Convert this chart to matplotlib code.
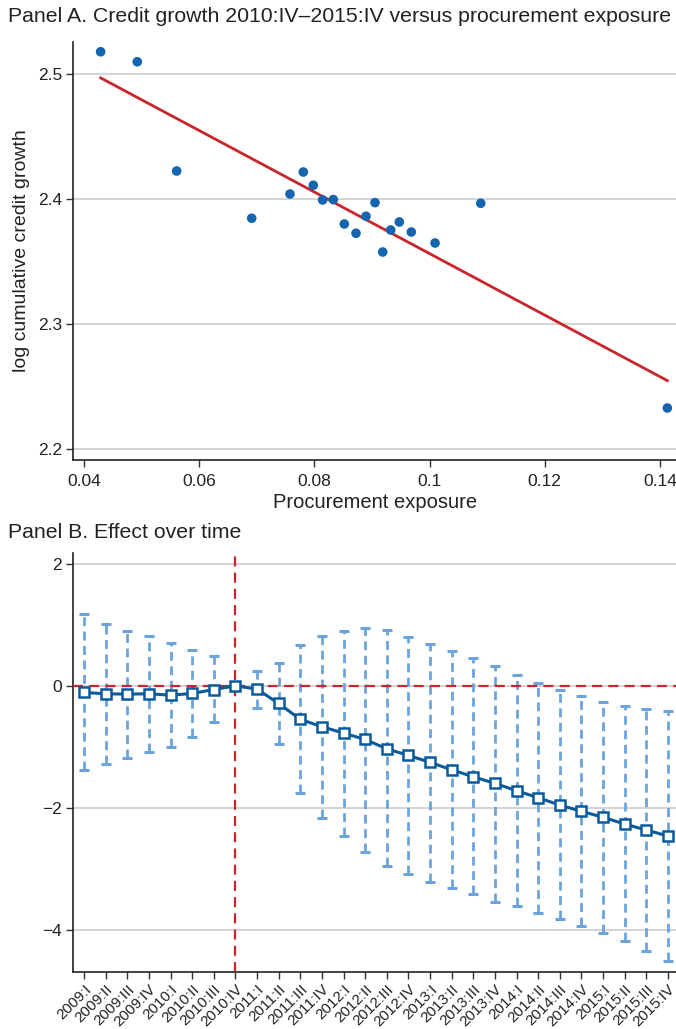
"""
Credit growth vs procurement exposure, and effect over time
"""
import numpy as np
import matplotlib
matplotlib.use('Agg')
from matplotlib import pyplot as plt
from matplotlib.ticker import FuncFormatter

plt.rcParams['font.family'] = ['Liberation Sans', 'DejaVu Sans']

# Panel A data
exposure = [0.04285, 0.04921, 0.05606, 0.06909, 0.07574, 0.07806, 0.07979, 0.08142, 0.08327, 0.08518,
            0.08721, 0.08895, 0.09051, 0.09185, 0.09324, 0.09474, 0.09682, 0.10094, 0.10888, 0.1413]
credit_growth = [2.518, 2.510, 2.4226, 2.3848, 2.4042, 2.4218, 2.4112, 2.3994, 2.3997, 2.3802,
                 2.3728, 2.3864, 2.3973, 2.3578, 2.3754, 2.3818, 2.3738, 2.3650, 2.3968, 2.233]
fit_intercept = 2.6025
fit_slope = -2.46

# Panel B data
quarters = ['2009:I', '2009:II', '2009:III', '2009:IV', '2010:I', '2010:II', '2010:III', '2010:IV',
            '2011:I', '2011:II', '2011:III', '2011:IV', '2012:I', '2012:II', '2012:III', '2012:IV',
            '2013:I', '2013:II', '2013:III', '2013:IV', '2014:I', '2014:II', '2014:III', '2014:IV',
            '2015:I', '2015:II', '2015:III', '2015:IV']
effect = [-0.108, -0.13, -0.136, -0.13, -0.153, -0.125, -0.06, 0.0,
          -0.054, -0.289, -0.55, -0.67, -0.775, -0.88, -1.033, -1.141,
          -1.256, -1.377, -1.492, -1.6, -1.721, -1.836, -1.956, -2.059,
          -2.157, -2.267, -2.366, -2.464]
ci_upper = [1.175, 1.016, 0.908, 0.81, 0.70, 0.59, 0.487, np.nan,
            0.241, 0.377, 0.672, 0.826, 0.908, 0.946, 0.913, 0.798,
            0.689, 0.574, 0.454, 0.318, 0.180, 0.044, -0.076, -0.174,
            -0.267, -0.333, -0.382, -0.415]
ci_lower = [-1.382, -1.279, -1.185, -1.087, -1.01, -0.833, -0.6, np.nan,
            -0.361, -0.961, -1.754, -2.174, -2.459, -2.731, -2.961, -3.092,
            -3.218, -3.321, -3.416, -3.541, -3.611, -3.721, -3.83, -3.939,
            -4.06, -4.19, -4.344, -4.508]
ref_quarter = '2010:IV'

W, H = 676, 1029
fig = plt.figure(figsize=(W / 100, H / 100), dpi=100)

dot_blue = '#1565b0'
line_blue = '#0b5a9c'
ci_blue = '#6ba3da'
red = '#c7262c'
grid_grey = '#d0d0d0'
fs = 12.5

def style_axes(ax):
    for s in ['top', 'right']:
        ax.spines[s].set_visible(False)
    for s in ['left', 'bottom']:
        ax.spines[s].set_linewidth(1.2)
        ax.spines[s].set_color('#222222')
    ax.tick_params(direction='out', length=5, width=1.0, color='#333333',
                   labelsize=fs, labelcolor='#222222', pad=3)
    ax.yaxis.grid(True, color=grid_grey, linewidth=1.3)
    ax.set_axisbelow(True)

# ---- Panel A ----
ax1 = fig.add_axes([73.3 / W, 1 - 460 / H, 1 - 73.3 / W, (460 - 42) / H])
style_axes(ax1)
ax1.tick_params(axis='x', pad=5)
ax1.scatter(exposure, credit_growth, s=48, color=dot_blue, edgecolors='none', zorder=3)
xs = np.array([min(exposure), max(exposure)])
ax1.plot(xs, fit_intercept + fit_slope * xs, color=red, linewidth=2.0, zorder=2)
ax1.set_xlim(0.0381, 0.1428)
ax1.set_ylim(2.1914, 2.5258)
ax1.set_xticks([0.04, 0.06, 0.08, 0.1, 0.12, 0.14])
ax1.set_yticks([2.2, 2.3, 2.4, 2.5])
ax1.xaxis.set_major_formatter(FuncFormatter(lambda v, p: '%g' % round(v, 3)))
ax1.yaxis.set_major_formatter(FuncFormatter(lambda v, p: '%g' % round(v, 3)))
ax1.set_xlabel('Procurement exposure', fontsize=fs + 2, color='#222222', labelpad=3)
ax1.set_ylabel('log cumulative credit growth', fontsize=fs + 1.5, color='#222222', labelpad=6)
fig.text(8 / W, 1 - 17 / H, 'Panel A. Credit growth 2010:IV\u20132015:IV versus procurement exposure',
         fontsize=15.3, color='#222222', ha='left', va='center')

# ---- Panel B ----
ax2 = fig.add_axes([73.3 / W, 1 - 972.3 / H, 1 - 73.3 / W, (972.3 - 553.3) / H])
style_axes(ax2)
idx = np.arange(len(quarters))
lo = np.array(ci_lower)
hi = np.array(ci_upper)
ok = ~np.isnan(lo)
ax2.vlines(idx[ok], lo[ok], hi[ok], colors=ci_blue, linewidth=2.0,
           linestyles=(0, (3.2, 2.0)), zorder=2)
ax2.plot(idx[ok], hi[ok], linestyle='none', marker='_', markersize=6.5, mew=2.2, color=ci_blue, zorder=2)
ax2.plot(idx[ok], lo[ok], linestyle='none', marker='_', markersize=6.5, mew=2.2, color=ci_blue, zorder=2)
ax2.axhline(0, color=red, linewidth=1.6, linestyle=(0, (4.5, 2.8)), zorder=3)
ax2.axvline(quarters.index(ref_quarter), color=red, linewidth=1.6, linestyle=(0, (4.5, 2.8)), zorder=3)
ax2.plot(idx, effect, color=line_blue, linewidth=2.2, marker='s', markersize=6.5,
         mfc='white', mec=line_blue, mew=1.8, zorder=4)
ax2.set_xlim(-0.495, 27.37)
ax2.set_ylim(-4.70, 2.175)
ax2.set_yticks([2, 0, -2, -4])
ax2.set_xticks(idx)
ax2.set_xticklabels(quarters, rotation=45, ha='right', rotation_mode='anchor', fontsize=11)
ax2.tick_params(axis='x', pad=2)
fig.text(8 / W, 1 - 533 / H, 'Panel B. Effect over time', fontsize=15.3, color='#222222',
         ha='left', va='center')

fig.savefig('out.png', dpi=100)
print('Finished')
